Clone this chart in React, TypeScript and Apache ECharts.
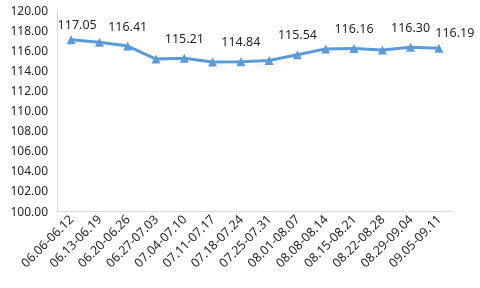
import React, { useEffect, useRef } from "react";
import * as echarts from "echarts";

const categories = [
  "06.06-06.12", "06.13-06.19", "06.20-06.26", "06.27-07.03", "07.04-07.10",
  "07.11-07.17", "07.18-07.24", "07.25-07.31", "08.01-08.07", "08.08-08.14",
  "08.15-08.21", "08.22-08.28", "08.29-09.04", "09.05-09.11",
];
const values = [
  117.05, 116.78, 116.41, 115.12, 115.21, 114.82, 114.84, 114.98, 115.54,
  116.13, 116.16, 116.02, 116.30, 116.19,
];
const labeledIndices = [0, 2, 4, 6, 8, 10, 12, 13];

const FONT = "'Noto Sans', sans-serif";

export default function App() {
  const ref = useRef<HTMLDivElement>(null);
  useEffect(() => {
    if (!ref.current) return;
    const chart = echarts.init(ref.current, null, { renderer: "svg" });
    const data = values.map((v, i) => {
      const show = labeledIndices.includes(i);
      const last = i === values.length - 1;
      return {
        value: v,
        label: {
          show,
          position: "top",
          offset: last ? [16, 0] : i === 0 ? [6, 1] : [0, -4],
        },
      };
    });
    chart.setOption({
      animation: false,
      grid: { left: 57, right: 27, top: 10, bottom: 77 },
      xAxis: {
        type: "category",
        data: categories,
        boundaryGap: true,
        axisLine: { show: true, lineStyle: { color: "#d9d9d9", width: 1 } },
        axisTick: { show: false },
        axisLabel: {
          rotate: 45,
          interval: 0,
          fontSize: 12.5,
          color: "#262626",
          fontFamily: FONT,
          margin: 6,
        },
      },
      yAxis: {
        type: "value",
        min: 100,
        max: 120,
        interval: 2,
        axisLine: { show: true, lineStyle: { color: "#d9d9d9", width: 1 } },
        axisTick: { show: false },
        splitLine: { show: false },
        axisLabel: {
          fontSize: 12,
          color: "#262626",
          fontFamily: FONT,
          margin: 9,
          formatter: (v: number) => v.toFixed(2),
        },
      },
      series: [
        {
          type: "line",
          data,
          symbol: "triangle",
          symbolSize: 9,
          lineStyle: { color: "#5b9bd5", width: 3 },
          itemStyle: { color: "#5b9bd5" },
          label: {
            fontSize: 12.5,
            color: "#262626",
            fontFamily: FONT,
            formatter: (p: any) => Number(p.value).toFixed(2),
          },
        },
      ],
    });
    return () => chart.dispose();
  }, []);
  return (
    <div
      ref={ref}
      style={{ position: "fixed", left: 0, top: 0, width: 480, height: 288 }}
    />
  );
}
